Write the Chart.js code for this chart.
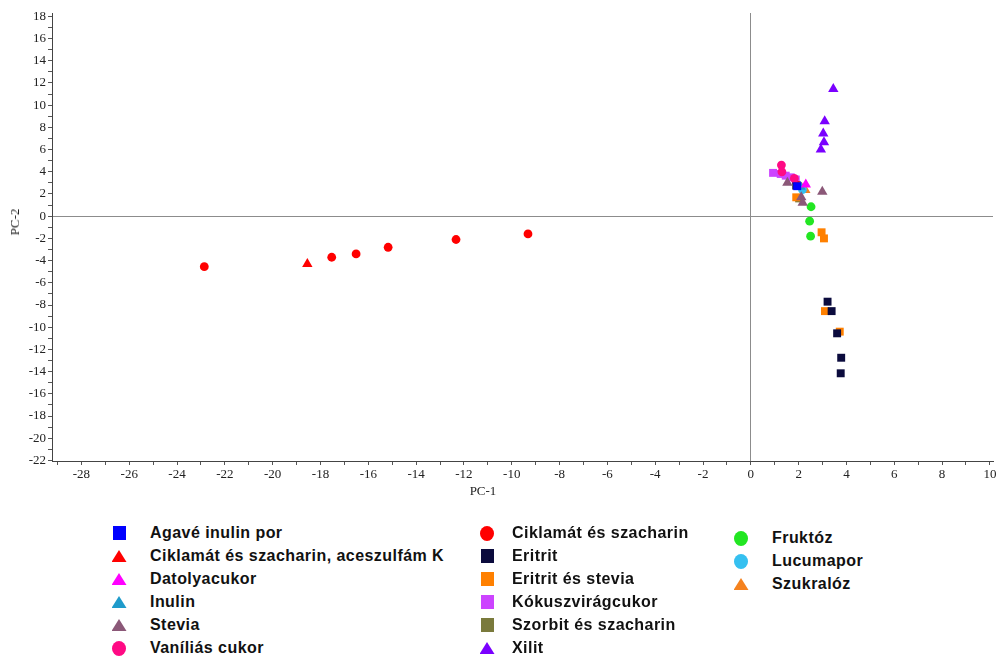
<!DOCTYPE html>
<html>
<head>
<meta charset="utf-8">
<script src="https://cdn.jsdelivr.net/npm/chart.js@4"></script>
<style>
  html, body { margin: 0; padding: 0; background: #fff; }
  #wrap { position: relative; width: 999px; height: 656px; overflow: hidden; }
  #chartBox { position: absolute; left: 0; top: 0; width: 999px; height: 503px; }
  .axisTitle { position: absolute; font: 13px "Liberation Serif", "Times New Roman", serif; color: #222; white-space: nowrap; }
  #xTitle { left: 483px; top: 491px; transform: translate(-50%, -50%); }
  #yTitle { left: 15px; top: 222px; transform: translate(-50%, -50%) rotate(-90deg); }
  .lg { position: absolute; font: bold 16px "Liberation Sans", Arial, sans-serif; letter-spacing: 0.45px; color: #111; white-space: nowrap; }
  .lg .mk { position: absolute; }
  .lg .tx { position: absolute; transform: translateY(-50%); }
</style>
</head>
<body>
<div id="wrap">
  <div id="chartBox"><canvas id="c" width="999" height="503"></canvas></div>
  <div id="xTitle" class="axisTitle">PC-1</div>
  <div id="yTitle" class="axisTitle">PC-2</div>
  <div id="legend"></div>
</div>
<script>
// PCA score plot of sweetener samples: PC-1 vs PC-2

const seriesNames = [
  'Agavé inulin por',
  'Ciklamát és szacharin, aceszulfám K',
  'Datolyacukor',
  'Inulin',
  'Stevia',
  'Vaníliás cukor',
  'Ciklamát és szacharin',
  'Eritrit',
  'Eritrit és stevia',
  'Kókuszvirágcukor',
  'Szorbit és szacharin',
  'Xilit',
  'Fruktóz',
  'Lucumapor',
  'Szukralóz'
];

// scores as [PC-1, PC-2] pairs, one array per sample group
const agaveInulinPor   = [[1.94, 2.7]];
const ciklamatAceszK   = [[-18.55, -4.3]];
const datolyacukor     = [[2.3, 2.85]];
const inulin           = [[2.08, 2.65]];
const stevia           = [[1.53, 3.0], [2.11, 1.7], [2.17, 1.2], [2.99, 2.2]];
const vaniliasCukor    = [[1.28, 4.6], [1.3, 4.0], [1.82, 3.4]];
const ciklamatSzach    = [[-22.86, -4.55], [-17.53, -3.7], [-16.51, -3.4], [-15.17, -2.8], [-12.33, -2.1], [-9.32, -1.6], [2.0, 2.75]];
const eritrit          = [[1.9, 2.75], [3.21, -7.7], [3.38, -8.55], [3.61, -10.55], [3.78, -12.75], [3.76, -14.15]];
const eritritStevia    = [[1.9, 1.7], [2.96, -1.45], [3.06, -2.0], [3.1, -8.55], [3.72, -10.4]];
const kokuszviragcukor = [[0.93, 3.9], [1.25, 3.8], [1.46, 3.65], [1.67, 3.5], [1.88, 3.3]];
const szorbitSzach     = [[2.02, 1.6]];
const xilit            = [[3.45, 11.45], [3.09, 8.55], [3.03, 7.45], [3.06, 6.65], [2.93, 6.0]];
const fruktoz          = [[2.52, 0.85], [2.46, -0.45], [2.5, -1.8]];
const lucumapor        = [[2.16, 2.4]];
const szukraloz        = [[2.28, 2.35]];

const seriesValues = [
  agaveInulinPor, ciklamatAceszK, datolyacukor, inulin, stevia, vaniliasCukor,
  ciklamatSzach, eritrit, eritritStevia, kokuszviragcukor, szorbitSzach, xilit,
  fruktoz, lucumapor, szukraloz
];

// axis tick labels are drawn at every even value
const xTickRange = [-28, 10];
const yTickRange = [-22, 18];

// marker look per group
const markerStyles = [
  { color: '#0000ff', shape: 'rect' },
  { color: '#ff0000', shape: 'triangle' },
  { color: '#ff00ff', shape: 'triangle' },
  { color: '#1f9bcb', shape: 'triangle' },
  { color: '#8b5878', shape: 'triangle' },
  { color: '#ff0a84', shape: 'circle' },
  { color: '#ff0000', shape: 'circle' },
  { color: '#0b0b3d', shape: 'rect' },
  { color: '#ff8000', shape: 'rect' },
  { color: '#cc44ff', shape: 'rect' },
  { color: '#7a7a3c', shape: 'rect' },
  { color: '#7a00ff', shape: 'triangle' },
  { color: '#22e622', shape: 'circle' },
  { color: '#35c0f0', shape: 'circle' },
  { color: '#f5821f', shape: 'triangle' }
];
const markerRadius = { rect: 5.6, triangle: 6, circle: 4.4 };

const datasets = seriesNames.map((name, i) => ({
  label: name,
  data: seriesValues[i].map(p => ({ x: p[0], y: p[1] })),
  backgroundColor: markerStyles[i].color,
  borderColor: markerStyles[i].color,
  borderWidth: 0,
  pointStyle: markerStyles[i].shape,
  pointRadius: markerRadius[markerStyles[i].shape],
  pointHoverRadius: markerRadius[markerStyles[i].shape]
}));

const tickFont = { family: '"Liberation Serif", "Times New Roman", serif', size: 13 };
const zeroLine = ctx => (ctx.tick && ctx.tick.value === 0) ? '#8c8c8c' : 'rgba(0,0,0,0)';
const evenLabel = (lo, hi) => function (v) {
  return (Number.isInteger(v) && v % 2 === 0 && v >= lo && v <= hi) ? String(v) : '';
};
// keep the plot frame fixed: no extra room reserved for the end labels
const noEdgePadding = s => { s.paddingLeft = 0; s.paddingRight = 0; s.paddingTop = 0; s.paddingBottom = 0; };

new Chart(document.getElementById('c'), {
  type: 'scatter',
  data: { datasets },
  options: {
    responsive: false,
    animation: false,
    devicePixelRatio: 1,
    layout: { padding: { top: 13, right: 2, left: 0, bottom: 0 } },
    plugins: { legend: { display: false }, tooltip: { enabled: false } },
    scales: {
      x: {
        type: 'linear',
        min: -29.23,
        max: 10.13,
        border: { display: true, color: '#444', width: 1 },
        grid: { drawOnChartArea: true, color: zeroLine, tickColor: '#555', tickLength: 4, lineWidth: 1 },
        ticks: {
          stepSize: 1, includeBounds: false, autoSkip: false, maxRotation: 0,
          padding: 2, color: '#222', font: tickFont,
          callback: evenLabel(xTickRange[0], xTickRange[1])
        },
        afterFit: s => { s.height = 42; noEdgePadding(s); }
      },
      y: {
        type: 'linear',
        min: -22.05,
        max: 18.3,
        border: { display: true, color: '#444', width: 1 },
        grid: { drawOnChartArea: true, color: zeroLine, tickColor: '#555', tickLength: 4, lineWidth: 1 },
        ticks: {
          stepSize: 1, includeBounds: false, autoSkip: false,
          padding: 2, color: '#222', font: tickFont,
          callback: evenLabel(yTickRange[0], yTickRange[1])
        },
        afterFit: s => { s.width = 52; noEdgePadding(s); }
      }
    }
  }
});

// legend in three columns below the plot, built from the same series list
const legendColumns = [
  { markX: 119, textX: 150, rows: [0, 1, 2, 3, 4, 5], top: 533, step: 23 },
  { markX: 487, textX: 512, rows: [6, 7, 8, 9, 10, 11], top: 533, step: 23 },
  { markX: 741, textX: 772, rows: [12, 13, 14], top: 538, step: 23 }
];
const legendEl = document.getElementById('legend');
legendColumns.forEach(col => {
  col.rows.forEach((idx, r) => {
    const y = col.top + r * col.step;
    const st = markerStyles[idx];
    const item = document.createElement('div');
    item.className = 'lg';
    item.style.left = '0px';
    item.style.top = '0px';
    const mk = document.createElement('div');
    mk.className = 'mk';
    mk.style.background = st.color;
    if (st.shape === 'rect') {
      mk.style.width = '13px'; mk.style.height = '14px';
      mk.style.left = (col.markX - 6.5) + 'px'; mk.style.top = (y - 7) + 'px';
    } else if (st.shape === 'circle') {
      mk.style.width = '14px'; mk.style.height = '15px'; mk.style.borderRadius = '50%';
      mk.style.left = (col.markX - 7) + 'px'; mk.style.top = (y - 7.5) + 'px';
    } else {
      mk.style.width = '15px'; mk.style.height = '12px';
      mk.style.clipPath = 'polygon(50% 0, 100% 100%, 0 100%)';
      mk.style.left = (col.markX - 7.5) + 'px'; mk.style.top = (y - 6) + 'px';
    }
    const tx = document.createElement('div');
    tx.className = 'tx';
    tx.textContent = seriesNames[idx];
    tx.style.left = col.textX + 'px';
    tx.style.top = y + 'px';
    item.appendChild(mk);
    item.appendChild(tx);
    legendEl.appendChild(item);
  });
});
</script>
</body>
</html>
